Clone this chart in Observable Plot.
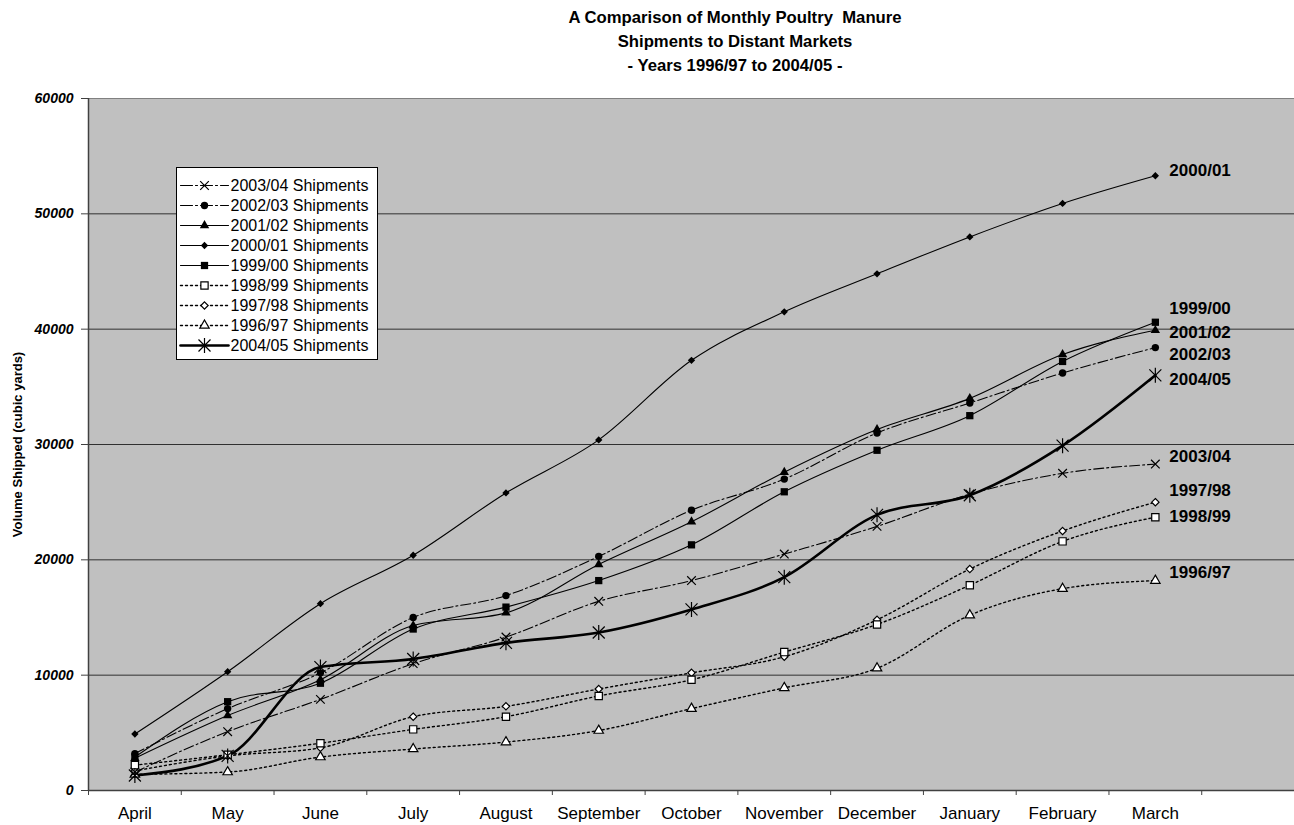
<!DOCTYPE html>
<html>
<head>
<meta charset="utf-8">
<script src="https://cdn.jsdelivr.net/npm/d3@7"></script>
<script src="https://cdn.jsdelivr.net/npm/@observablehq/plot@0.6"></script>
<style>
  html, body { margin: 0; padding: 0; background: #fff; overflow: hidden; }
  #page { position: relative; width: 1294px; height: 825px; font-family: "Liberation Sans", Arial, sans-serif; }
  #title { position: absolute; top: 6px; left: 435px; width: 600px; text-align: center;
           font-weight: bold; font-size: 16.7px; line-height: 24px; color: #000; }
  #chart { position: absolute; top: 80px; left: 0; }
  #legend { position: absolute; left: 176px; top: 167px; width: 200px; height: 191px;
            background: #fff; border: 1px solid #000; }
</style>
</head>
<body>
<div id="page">
  <div id="title">A Comparison of Monthly Poultry&nbsp; Manure<br>Shipments to Distant Markets<br>- Years 1996/97 to 2004/05 -</div>
  <div id="chart"></div>
  <div id="legend"></div>
</div>
<script>
// Months of the shipping year (April to March)
const months = ["April", "May", "June", "July", "August", "September", "October",
                "November", "December", "January", "February", "March"];

// Cumulative volume shipped (cubic yards) per shipping year
const ship2003_04 = [1600, 5100, 7900, 11000, 13300, 16400, 18200, 20500, 22900, 25700, 27500, 28300];
const ship2002_03 = [3200, 7100, 10200, 15000, 16900, 20300, 24300, 27000, 31000, 33600, 36200, 38400];
const ship2001_02 = [2800, 6500, 9600, 14300, 15400, 19600, 23300, 27600, 31300, 34000, 37800, 39900];
const ship2000_01 = [4900, 10300, 16200, 20400, 25800, 30400, 37300, 41500, 44800, 48000, 50900, 53300];
const ship1999_00 = [2900, 7700, 9300, 14000, 15900, 18200, 21300, 25900, 29500, 32500, 37200, 40600];
const ship1998_99 = [2200, 3100, 4100, 5300, 6400, 8200, 9600, 12000, 14400, 17800, 21600, 23700];
const ship1997_98 = [1700, 3000, 3700, 6400, 7300, 8800, 10200, 11600, 14800, 19200, 22500, 25000];
const ship1996_97 = [1400, 1600, 2900, 3600, 4200, 5200, 7100, 8900, 10600, 15200, 17500, 18200];
const ship2004_05 = [1300, 3000, 10700, 11400, 12800, 13700, 15700, 18500, 23900, 25600, 29900, 36000];

// Series names in legend order, paired with their values
const seriesNames = ["2003/04", "2002/03", "2001/02", "2000/01", "1999/00",
                     "1998/99", "1997/98", "1996/97", "2004/05"];
const seriesData = [ship2003_04, ship2002_03, ship2001_02, ship2000_01, ship1999_00,
                    ship1998_99, ship1997_98, ship1996_97, ship2004_05];

const yTicks = [0, 10000, 20000, 30000, 40000, 50000, 60000];

// Excel-style "star" marker: an X with a vertical bar through it
const starSymbol = {
  draw(context, size) {
    const r = Math.sqrt(size / Math.PI);
    const d = r * 0.8;
    context.moveTo(-d, -d); context.lineTo(d, d);
    context.moveTo(d, -d); context.lineTo(-d, d);
    context.moveTo(0, -r); context.lineTo(0, r);
  }
};

const dashDot = "10,3,2,3";
const dotted = "2,3";

// Line and marker styling for each series
const styles = {
  "2003/04": {dash: dashDot, width: 1.1, symbol: "times", r: 4, fill: "none", stroke: "black", labelDy: -8},
  "2002/03": {dash: dashDot, width: 1.1, symbol: "circle", r: 3.7, fill: "black", stroke: "none", labelDy: 7},
  "2001/02": {dash: null, width: 1.1, symbol: "triangle", r: 3.5, fill: "black", stroke: "none", labelDy: 2},
  "2000/01": {dash: null, width: 1.1, symbol: "diamond2", r: 3.3, fill: "black", stroke: "none", labelDy: -5},
  "1999/00": {dash: null, width: 1.1, symbol: "square", r: 4.1, fill: "black", stroke: "none", labelDy: -14},
  "1998/99": {dash: dotted, width: 1.4, symbol: "square", r: 4.1, fill: "white", stroke: "black", labelDy: -1},
  "1997/98": {dash: dotted, width: 1.4, symbol: "diamond2", r: 3.3, fill: "white", stroke: "black", labelDy: -12},
  "1996/97": {dash: dotted, width: 1.4, symbol: "triangle", r: 3.5, fill: "white", stroke: "black", labelDy: -8},
  "2004/05": {dash: null, width: 2.6, symbol: starSymbol, r: 7.5, fill: "none", stroke: "black", labelDy: 4}
};

// Long-format rows: one per series and month; x sits at the centre of each month's band
const rows = seriesNames.flatMap((name, s) =>
  seriesData[s].map((value, i) => ({series: name, month: months[i], pos: i + 0.5, value}))
);

const font = "'Liberation Sans', Arial, sans-serif";

// Draw order: background, grid, series lines, markers, end labels, axes
const marks = [
  Plot.frame({fill: "#c0c0c0", stroke: null}),
  Plot.ruleY(yTicks.filter(t => t > 0 && t < 60000), {stroke: "#303030", strokeWidth: 1}),
  Plot.ruleY([60000], {stroke: "#808080", strokeWidth: 1.2})
];

// Draw the lines so the bold 2004/05 series ends up on top
const drawOrder = ["1996/97", "1997/98", "1998/99", "1999/00", "2000/01", "2001/02", "2002/03", "2003/04", "2004/05"];
for (const name of drawOrder) {
  const st = styles[name];
  const data = rows.filter(d => d.series === name);
  marks.push(Plot.line(data, {
    x: "pos", y: "value", curve: "monotone-x",
    stroke: "black", strokeWidth: st.width, strokeDasharray: st.dash
  }));
}
for (const name of drawOrder) {
  const st = styles[name];
  const data = rows.filter(d => d.series === name);
  marks.push(Plot.dot(data, {
    x: "pos", y: "value", symbol: st.symbol, r: st.r,
    fill: st.fill, stroke: st.stroke, strokeWidth: 1.2
  }));
  // Series name printed beside its final (March) value
  marks.push(Plot.text(data.slice(-1), {
    x: "pos", y: "value", text: "series", dx: 14, dy: st.labelDy,
    textAnchor: "start", fontWeight: "bold", fontSize: 17, fill: "black"
  }));
}

marks.push(
  Plot.ruleX([0], {stroke: "#404040", strokeWidth: 1.5}),
  Plot.ruleY([0], {stroke: "#404040", strokeWidth: 1.5}),
  // Y axis: outward ticks, with bold italic value labels
  Plot.axisY(yTicks, {
    tickSize: 7, stroke: "#404040", tickFormat: () => "", label: null
  }),
  Plot.text(yTicks, {
    y: d => d, frameAnchor: "left", dx: -15, textAnchor: "end", text: d => String(d),
    fontWeight: "bold", fontStyle: "italic", fontSize: 14, fill: "black"
  }),
  Plot.text(["Volume Shipped (cubic yards)"], {
    frameAnchor: "left", textAnchor: "middle", dx: -71, rotate: -90, text: d => d,
    fontWeight: "bold", fontSize: 13, fill: "black"
  }),
  // X axis: tick marks on the band boundaries, month names centred in each band
  Plot.axisX(d3.range(0, 13), {
    tickSize: 5, stroke: "#404040", tickFormat: () => "", label: null
  }),
  Plot.axisX(months.map((m, i) => i + 0.5), {
    tickSize: 0, tickPadding: 16, tickFormat: d => months[Math.floor(d)],
    fontSize: 17, label: null
  })
);

const chart = Plot.plot({
  width: 1294,
  height: 745,
  marginTop: 18,
  marginBottom: 35,
  marginLeft: 88,
  marginRight: 0,
  style: {fontFamily: font, fontSize: "16px", color: "black", background: "transparent", overflow: "visible"},
  x: {type: "linear", domain: [0, 13], axis: null},
  y: {domain: [0, 60000], axis: null},
  marks
});
document.getElementById("chart").appendChild(chart);

// Legend: short line sample with marker, then the series label
const legendRows = seriesNames.flatMap(name => [
  {series: name, x: 0}, {series: name, x: 1}
]);
const legendMarks = [];
for (const name of seriesNames) {
  const st = styles[name];
  legendMarks.push(Plot.line(legendRows.filter(d => d.series === name), {
    x: "x", y: "series", stroke: "black", strokeWidth: st.width,
    strokeDasharray: st.dash === dashDot ? "12,3,2,3" : st.dash
  }));
  legendMarks.push(Plot.dot([name], {
    x: () => 0.5, y: d => d, symbol: st.symbol, r: st.r,
    fill: st.fill, stroke: st.stroke, strokeWidth: 1.2
  }));
}
legendMarks.push(Plot.text(seriesNames, {
  x: () => 1, y: d => d, text: d => `${d} Shipments`, dx: 2,
  textAnchor: "start", fontSize: 16, fill: "black"
}));

const legend = Plot.plot({
  width: 200,
  height: 191,
  marginTop: 15,
  marginBottom: 12,
  marginLeft: 3,
  marginRight: 149,
  style: {fontFamily: font, background: "transparent", overflow: "visible"},
  x: {domain: [0, 1], axis: null},
  y: {type: "point", domain: seriesNames, padding: 0, axis: null},
  marks: legendMarks
});
document.getElementById("legend").appendChild(legend);
</script>
</body>
</html>
